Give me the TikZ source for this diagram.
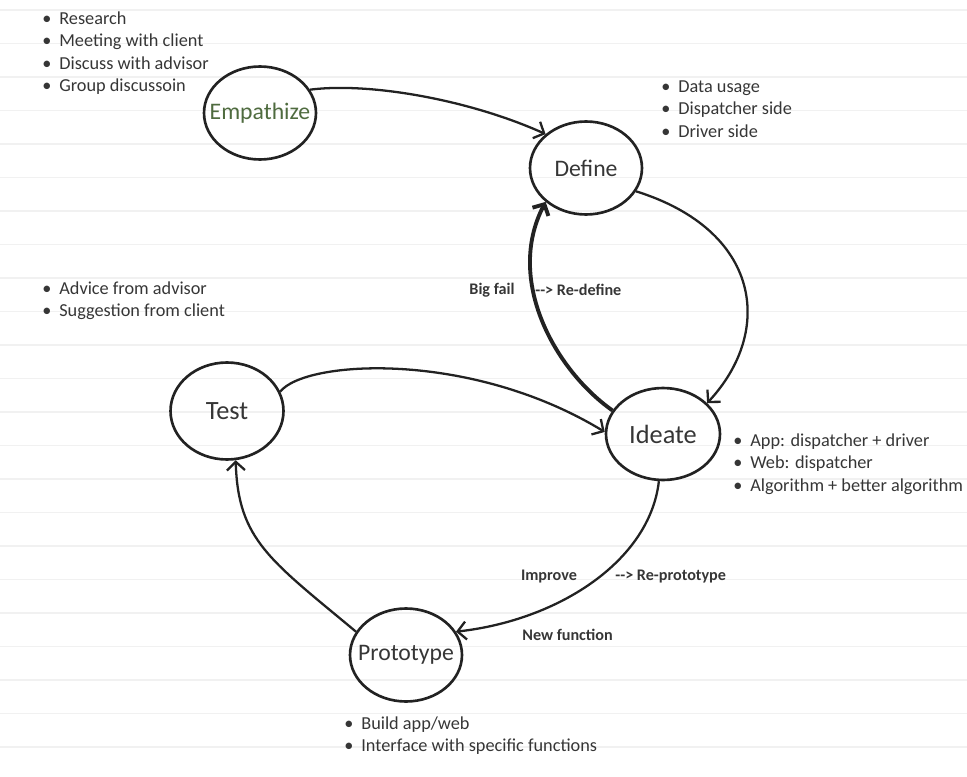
\documentclass[tikz,border=0pt]{standalone}
\usepackage{fontspec}
\setmainfont{Carlito}
\usepackage{tikz}
\usetikzlibrary{shapes.geometric,arrows.meta,positioning}

\definecolor{inkgray}{HTML}{222222}
\definecolor{textgray}{HTML}{363636}
\definecolor{empgreen}{HTML}{4F6B3F}
\definecolor{rulegray}{HTML}{F1F1F1}

\newcommand{\bul}{\makebox[0.34cm][l]{\textbullet}}

\tikzset{
  stage/.style={ellipse, draw=inkgray, line width=1.5pt, inner sep=0pt, minimum width=2.24cm, minimum height=1.86cm},
  stagetext/.style={text=textgray, font=\fontsize{13.5}{15}\selectfont},
  bigtext/.style={text=textgray, font=\fontsize{15}{17}\selectfont},
  flow/.style={draw=inkgray, line width=1.3pt, -{Straight Barb[length=1.7mm,width=3.6mm]}},
  notes/.style={anchor=north west, inner sep=0pt, align=left, text=textgray, font=\fontsize{10.4}{12.8}\selectfont},
  remark/.style={inner sep=0pt, text=textgray, font=\fontsize{9.2}{10}\selectfont\bfseries},
}

\begin{document}
\begin{tikzpicture}[x=0.02cm, y=-0.02cm]
    \useasboundingbox (0,0) rectangle (967,777);

    % ruled paper
    \foreach \k in {0,...,22}
        \draw[rulegray, line width=0.7pt] (0,{10+33.5*\k}) -- (967,{10+33.5*\k});

    % stages
    \node[stage, label={[empgreen, font=\fontsize{13.5}{15}\selectfont]center:Empathize}] (emp) at (260,113) {};
    \node[stage, label={[stagetext]center:Define}] (def) at (586,168) {};
    \node[stage, minimum width=2.28cm, minimum height=1.84cm, label={[bigtext]center:Ideate}] (ide) at (663,434) {};
    \node[stage, minimum width=2.26cm, minimum height=1.94cm, label={[bigtext]center:Test}] (tst) at (227,411) {};
    \node[stage, label={[stagetext]center:Prototype}] (pro) at (406,655) {};

    % notes
    \node[notes] (empnotes) at (42,11) {\bul Research\\ \bul Meeting with client\\ \bul Discuss with advisor\\ \bul Group discussoin};
    \node[notes] (defnotes) at (661,80) {\bul Data usage\\ \bul Dispatcher side\\ \bul Driver side};
    \node[notes] (tstnotes) at (42,281) {\bul Advice from advisor\\ \bul Suggestion from client};
    \node[notes] (idenotes) at (733,433) {\bul App: dispatcher + driver\\ \bul Web: dispatcher\\ \bul Algorithm + better algorithm};
    \node[notes] (pronotes) at (344,716) {\bul Build app/web\\ \bul Interface with specific functions};

    % remarks on the loops
    \node[remark] (bigfail) at (492,290) {Big fail};
    \node[remark, anchor=west] (redefine) at (535,290) {-{}-{}> Re-define};
    \node[remark] (improve) at (549,577) {Improve};
    \node[remark, anchor=west] (reproto) at (615,577) {-{}-{}> Re-prototype};
    \node[remark, anchor=west] (newfunc) at (522,635) {New function};

    % flow
    \draw[flow] (emp.25) .. controls (370,82) and (470,100) .. (def.140);
    \draw[flow] (def.-25) .. controls (760,230) and (775,330) .. (ide.35);
    \draw[flow, line width=2.2pt] (ide.155) .. controls (555,370) and (505,280) .. (def.220);
    \draw[flow] (ide.265) .. controls (650,560) and (560,620) .. (pro.25);
    \draw[flow] (pro.155) .. controls (270,560) and (238,540) .. (tst.-80);
    \draw[flow] (tst.20) .. controls (305,360) and (470,350) .. (ide.178);
\end{tikzpicture}
\end{document}
